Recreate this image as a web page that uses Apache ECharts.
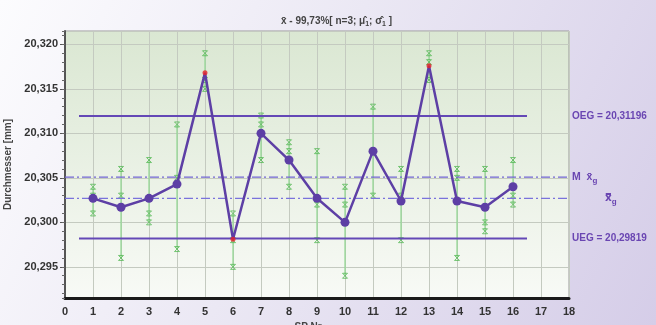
<!DOCTYPE html>
<html><head><meta charset="utf-8">
<script src="https://cdn.jsdelivr.net/npm/echarts@6/dist/echarts.min.js"></script>
<style>html,body{margin:0;padding:0;}#c{width:656px;height:325px;}</style>
</head><body><div id="c"></div>
<script>
const spNr = [1,2,3,4,5,6,7,8,9,10,11,12,13,14,15,16];
const values1 = [20.304,20.306,20.307,20.311,20.319,20.301,20.312,20.309,20.308,20.304,20.313,20.306,20.319,20.306,20.306,20.307];
const values2 = [20.303,20.303,20.301,20.305,20.316,20.298,20.311,20.308,20.302,20.302,20.308,20.303,20.318,20.305,20.300,20.303];
const values3 = [20.301,20.296,20.300,20.297,20.315,20.295,20.307,20.304,20.298,20.294,20.303,20.298,20.316,20.296,20.299,20.302];
const means = [20.3027,20.3017,20.3027,20.3043,20.3168,20.2981,20.3100,20.3070,20.3027,20.3000,20.3080,20.3024,20.3176,20.3024,20.3017,20.3040];
const oeg = 20.31196;
const ueg = 20.29819;
const mLine = 20.30508;
const xbarbar = 20.3027;
const limitSpan = [0.5, 16.5];
const xTicks = [0, 18];
const yRange = [20.2915, 20.3215];

const FONT = '"Liberation Sans", Arial, sans-serif';
const PURPLE = '#5d3fa5';
const LABELC = '#6a46b2';
const fmt = v => v.toFixed(3).replace('.', ',');

const rangeData = spNr.map((x,i)=>[x, Math.min(values1[i],values2[i],values3[i]), Math.max(values1[i],values2[i],values3[i])]);
const pointData = [];
spNr.forEach((x,i)=>{ pointData.push([x,values1[i]],[x,values2[i]],[x,values3[i]]); });
const meanData = spNr.map((x,i)=>{
  const out = means[i] > oeg || means[i] < ueg;
  return {value:[x, means[i]], symbolSize: out ? 0 : 9};
});
const outData = spNr.map((x,i)=>[x,means[i]]).filter(d=>d[1]>oeg||d[1]<ueg);

const lbl = (extra) => Object.assign({show:true,position:'end',distance:3,fontFamily:FONT,fontWeight:'bold',fontSize:10,color:LABELC}, extra);
const subRich = {a:{fontFamily:FONT,fontWeight:'bold',fontSize:10.5,color:LABELC},
                 d:{fontFamily:'"DejaVu Sans", '+FONT,fontWeight:'bold',fontSize:10.5,color:LABELC},
                 s:{fontFamily:FONT,fontWeight:'bold',fontSize:8,color:LABELC,padding:[7,0,0,0]}};
const hidden = {color:'rgba(0,0,0,0)',width:1,type:'solid'};
const mk = (y, label) => [{coord:[xTicks[0],y],lineStyle:hidden,label:label},{coord:[xTicks[1],y],lineStyle:hidden}];

const chart = echarts.init(document.getElementById('c'));
chart.setOption({
  animation:false,
  backgroundColor:{type:'linear',x:0,y:0,x2:1,y2:1,colorStops:[{offset:0,color:'#fcfcfe'},{offset:0.45,color:'#ebe8f4'},{offset:1,color:'#d5cde8'}]},
  title:{
    text:'{t|x\u0304 - 99,73%[ n=3; \u03bc\u0302}{s|1}{t|; \u03c3\u0302}{s|1}{t| ]}',
    left:276, top:10,
    textStyle:{rich:{
      t:{fontFamily:FONT,fontWeight:'bold',fontSize:10,color:'#444'},
      s:{fontFamily:FONT,fontWeight:'bold',fontSize:7,color:'#444',padding:[6,0,0,0]}
    }}
  },
  grid:{left:65,right:87,top:31,bottom:27,containLabel:false,outerBoundsMode:'none',show:true,borderColor:'#9a9a9a',borderWidth:1,
    backgroundColor:{type:'linear',x:0,y:0,x2:0,y2:1,colorStops:[{offset:0,color:'#dae7d2'},{offset:1,color:'#f8faf6'}]}},
  xAxis:{
    type:'value', min:xTicks[0], max:xTicks[1], interval:1,
    name:'SP Nr.  \u2192', nameLocation:'middle', nameGap:23,
    nameTextStyle:{fontFamily:FONT,fontWeight:'bold',fontSize:10,color:'#444'},
    axisLine:{show:true,onZero:false,lineStyle:{color:'#1a1a1a',width:3}},
    axisTick:{show:false},
    axisLabel:{fontFamily:FONT,fontWeight:'bold',fontSize:11,color:'#333',margin:8},
    splitLine:{show:true,lineStyle:{color:'#c4cac0',width:1}}
  },
  yAxis:[{
    type:'value', min:yRange[0], max:yRange[1], splitNumber:6,
    name:'Durchmesser [mm]', nameLocation:'middle', nameGap:37,
    nameTextStyle:{fontFamily:FONT,fontWeight:'bold',fontSize:10,color:'#444'},
    axisLine:{show:true,lineStyle:{color:'#555',width:2}},
    axisTick:{show:true,length:5,lineStyle:{color:'#555'}},
    axisLabel:{fontFamily:FONT,fontWeight:'bold',fontSize:11,color:'#333',margin:7,
      showMinLabel:false, showMaxLabel:false,
      formatter:v=>{const k=v*200; return Math.abs(k-Math.round(k))<1e-4 ? fmt(v) : '';}},
    splitLine:{show:true,lineStyle:{color:'#c4cac0',width:1}}
  },{
    type:'value', min:yRange[0], max:yRange[1], splitNumber:30, position:'left',
    axisLine:{show:false}, axisLabel:{show:false}, splitLine:{show:false},
    axisTick:{show:true,length:3,lineStyle:{color:'#666'}}
  }],
  series:[
    {type:'custom', data:rangeData, z:2, silent:true,
      renderItem:(params,api)=>{
        const p1 = api.coord([api.value(0),api.value(1)]);
        const p2 = api.coord([api.value(0),api.value(2)]);
        return {type:'line',shape:{x1:p1[0],y1:p1[1],x2:p2[0],y2:p2[1]},style:{stroke:'#8fd88f',lineWidth:1.2}};
      }},
    {type:'scatter', data:pointData, z:3, symbol:'path://M0,0H10L0,10H10Z', symbolSize:5,
      itemStyle:{color:'rgba(0,0,0,0)',borderColor:'#52b852',borderWidth:1}},
    {type:'line', data:xTicks.map(x=>[x,mLine]), symbol:'none', z:4, lineStyle:{color:'#7366d4',width:1.2,type:[9,3,2,3]}},
    {type:'line', data:xTicks.map(x=>[x,xbarbar]), symbol:'none', z:4, lineStyle:{color:'#7a72dc',width:1.2,type:[9,3,2,3]}},
    {type:'line', data:limitSpan.map(x=>[x,oeg]), symbol:'none', z:4, lineStyle:{color:'#6448b6',width:2},
      markLine:{silent:true, symbol:'none', animation:false,
        data:[
          mk(oeg, lbl({formatter:'OEG = 20,31196'})),
          mk(ueg, lbl({formatter:'UEG = 20,29819'})),
          mk(mLine, lbl({formatter:'{a|M  x\u0304}{s|g}',rich:subRich})),
          mk(xbarbar, lbl({distance:36,formatter:'{d|x\u033f}{s|g}',rich:subRich}))
        ]}},
    {type:'line', data:limitSpan.map(x=>[x,ueg]), symbol:'none', z:4, lineStyle:{color:'#6448b6',width:2}},
    {type:'line', data:meanData, z:6, symbol:'circle', lineStyle:{color:PURPLE,width:2.5},
      itemStyle:{color:PURPLE}},
    {type:'scatter', data:outData, z:7, symbol:'circle', symbolSize:5, itemStyle:{color:'#e8202a'}}
  ]
});
</script>
</body></html>
